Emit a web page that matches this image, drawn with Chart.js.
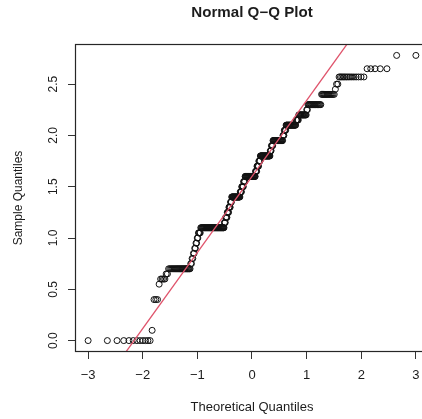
<!DOCTYPE html>
<html>
<head>
<meta charset="utf-8">
<script src="https://cdn.jsdelivr.net/npm/chart.js@4"></script>
<style>
  html, body { margin: 0; padding: 0; background: #ffffff; overflow: hidden; }
  #qq { display: block; }
</style>
</head>
<body>
<canvas id="qq" width="434" height="419"></canvas>
<script>
// Sorted sample, stored as distinct values and how many times each occurs
const sampleLevels = [0.0, 0.1, 0.4, 0.55, 0.6, 0.65, 0.7, 0.75, 0.8, 0.85, 0.9, 0.95, 1.0,
    1.05, 1.1, 1.15, 1.2, 1.25, 1.3, 1.35, 1.4, 1.45, 1.5, 1.55, 1.6, 1.65, 1.7, 1.75,
    1.8, 1.85, 1.9, 1.95, 2.0, 2.05, 2.1, 2.15, 2.2, 2.25, 2.3, 2.4, 2.45, 2.5, 2.57, 2.65, 2.78];
const levelCounts = [12, 1, 3, 1, 4, 2, 25, 2, 2, 2, 2, 2, 2,
    4, 49, 3, 4, 4, 4, 3, 22, 4, 5, 4, 28, 4, 5, 4,
    26, 3, 4, 24, 3, 4, 21, 5, 14, 2, 19, 14, 1, 2, 14, 5, 2];

const xTicks = [-3, -2, -1, 0, 1, 2, 3];
const yTicks = [0.0, 0.5, 1.0, 1.5, 2.0, 2.5];

const FONT = '"Liberation Sans", Arial, Helvetica, sans-serif';
const INK = '#1c1c1c';

// Inverse of the standard normal CDF (Acklam's rational approximation)
function qnorm(p) {
    const a = [-3.969683028665376e+01, 2.209460984245205e+02, -2.759285104469687e+02,
        1.383577518672690e+02, -3.066479806614716e+01, 2.506628277459239e+00];
    const b = [-5.447609879822406e+01, 1.615858368580409e+02, -1.556989798598866e+02,
        6.680131188771972e+01, -1.328068155288572e+01];
    const c = [-7.784894002430293e-03, -3.223964580411365e-01, -2.400758277161838e+00,
        -2.549671010229297e+00, 4.374664141464968e+00, 2.938163982698783e+00];
    const d = [7.784695709041462e-03, 3.224671290700398e-01, 2.445134137142996e+00,
        3.754408661907416e+00];
    const tail = (q) => (((((c[0] * q + c[1]) * q + c[2]) * q + c[3]) * q + c[4]) * q + c[5]) /
        ((((d[0] * q + d[1]) * q + d[2]) * q + d[3]) * q + 1);
    if (p < 0.02425) return tail(Math.sqrt(-2 * Math.log(p)));
    if (p > 1 - 0.02425) return -tail(Math.sqrt(-2 * Math.log(1 - p)));
    const q = p - 0.5, r = q * q;
    return (((((a[0] * r + a[1]) * r + a[2]) * r + a[3]) * r + a[4]) * r + a[5]) * q /
        (((((b[0] * r + b[1]) * r + b[2]) * r + b[3]) * r + b[4]) * r + 1);
}

// Expand the levels into the sorted sample
const sample = [];
sampleLevels.forEach((v, i) => {
    for (let k = 0; k < levelCounts[i]; k++) sample.push(v);
});
const n = sample.length;

// Theoretical quantiles at plotting positions (i - 0.5) / n
const qqPoints = sample.map((y, i) => ({ x: qnorm((i + 0.5) / n), y: y }));

// Reference line through the first and third quartiles
function quantile(sorted, p) {
    const h = (sorted.length - 1) * p;
    const lo = Math.floor(h);
    return sorted[lo] + (h - lo) * (sorted[Math.min(lo + 1, sorted.length - 1)] - sorted[lo]);
}
const q1 = quantile(sample, 0.25), q3 = quantile(sample, 0.75);
const slope = (q3 - q1) / (qnorm(0.75) - qnorm(0.25));
const intercept = q1 - slope * qnorm(0.25);
const lineEnds = [-4, 4].map(x => ({ x: x, y: intercept + slope * x }));

// Plot range: data range widened by 4% on each side
const pad = (lo, hi) => [lo - 0.04 * (hi - lo), hi + 0.04 * (hi - lo)];
const xLim = pad(qqPoints[0].x, qqPoints[n - 1].x);
const yLim = pad(sample[0], sample[n - 1]);

// Title and the box round the plot region
const frame = {
    id: 'frame',
    afterDraw(chart) {
        const { ctx, chartArea: a } = chart;
        ctx.save();
        ctx.strokeStyle = '#262626';
        ctx.lineWidth = 1.2;
        ctx.strokeRect(a.left + 0.5, a.top + 0.5, a.right - a.left - 1, a.bottom - a.top - 1);
        ctx.font = 'bold 14px ' + FONT;
        ctx.fillStyle = INK;
        ctx.textAlign = 'center';
        ctx.textBaseline = 'middle';
        ctx.translate((a.left + a.right) / 2, 13);
        ctx.scale(1.08, 1);
        ctx.fillText('Normal Q\u2212Q Plot', 0, 0);
        ctx.restore();
    }
};

const fmtMinus = (v) => (v < 0 ? '\u2212' + Math.abs(v) : String(v));

new Chart(document.getElementById('qq'), {
    type: 'scatter',
    data: {
        datasets: [
            {
                type: 'line',
                data: lineEnds,
                borderColor: '#DF536B',
                borderWidth: 1.3,
                pointRadius: 0,
                fill: false
            },
            {
                data: qqPoints,
                pointStyle: 'circle',
                pointRadius: 3,
                pointBorderWidth: 1,
                pointBorderColor: '#111111',
                pointBackgroundColor: 'rgba(0,0,0,0)'
            }
        ]
    },
    options: {
        responsive: false,
        animation: false,
        devicePixelRatio: 1,
        layout: { padding: { top: 44, right: 3, bottom: 0, left: 0 } },
        plugins: {
            legend: { display: false },
            tooltip: { enabled: false }
        },
        scales: {
            x: {
                type: 'linear',
                min: xLim[0],
                max: xLim[1],
                afterFit: (s) => { s.height = 67; },
                afterBuildTicks: (s) => { s.ticks = xTicks.map(v => ({ value: v })); },
                grid: { drawOnChartArea: false, drawTicks: true, tickLength: 7, color: '#333', lineWidth: 1 },
                border: { display: false },
                ticks: {
                    padding: 9,
                    color: INK,
                    font: { family: FONT, size: 13 },
                    maxRotation: 0,
                    callback: (v) => fmtMinus(v)
                },
                title: {
                    display: true,
                    text: 'Theoretical Quantiles',
                    color: INK,
                    font: { family: FONT, size: 13 },
                    padding: { top: 0, bottom: 4 }
                }
            },
            y: {
                type: 'linear',
                min: yLim[0],
                max: yLim[1],
                afterFit: (s) => { s.width = 75; },
                afterBuildTicks: (s) => { s.ticks = yTicks.map(v => ({ value: v })); },
                grid: { drawOnChartArea: false, drawTicks: true, tickLength: 7, color: '#333', lineWidth: 1 },
                border: { display: false },
                ticks: {
                    padding: 6,
                    color: INK,
                    font: { family: FONT, size: 12 },
                    minRotation: 90,
                    maxRotation: 90,
                    crossAlign: 'center',
                    callback: (v) => v.toFixed(1)
                },
                title: {
                    display: true,
                    text: 'Sample Quantiles',
                    color: INK,
                    font: { family: FONT, size: 12 },
                    padding: { top: 11, bottom: 0 }
                }
            }
        }
    },
    plugins: [frame]
});
</script>
</body>
</html>
